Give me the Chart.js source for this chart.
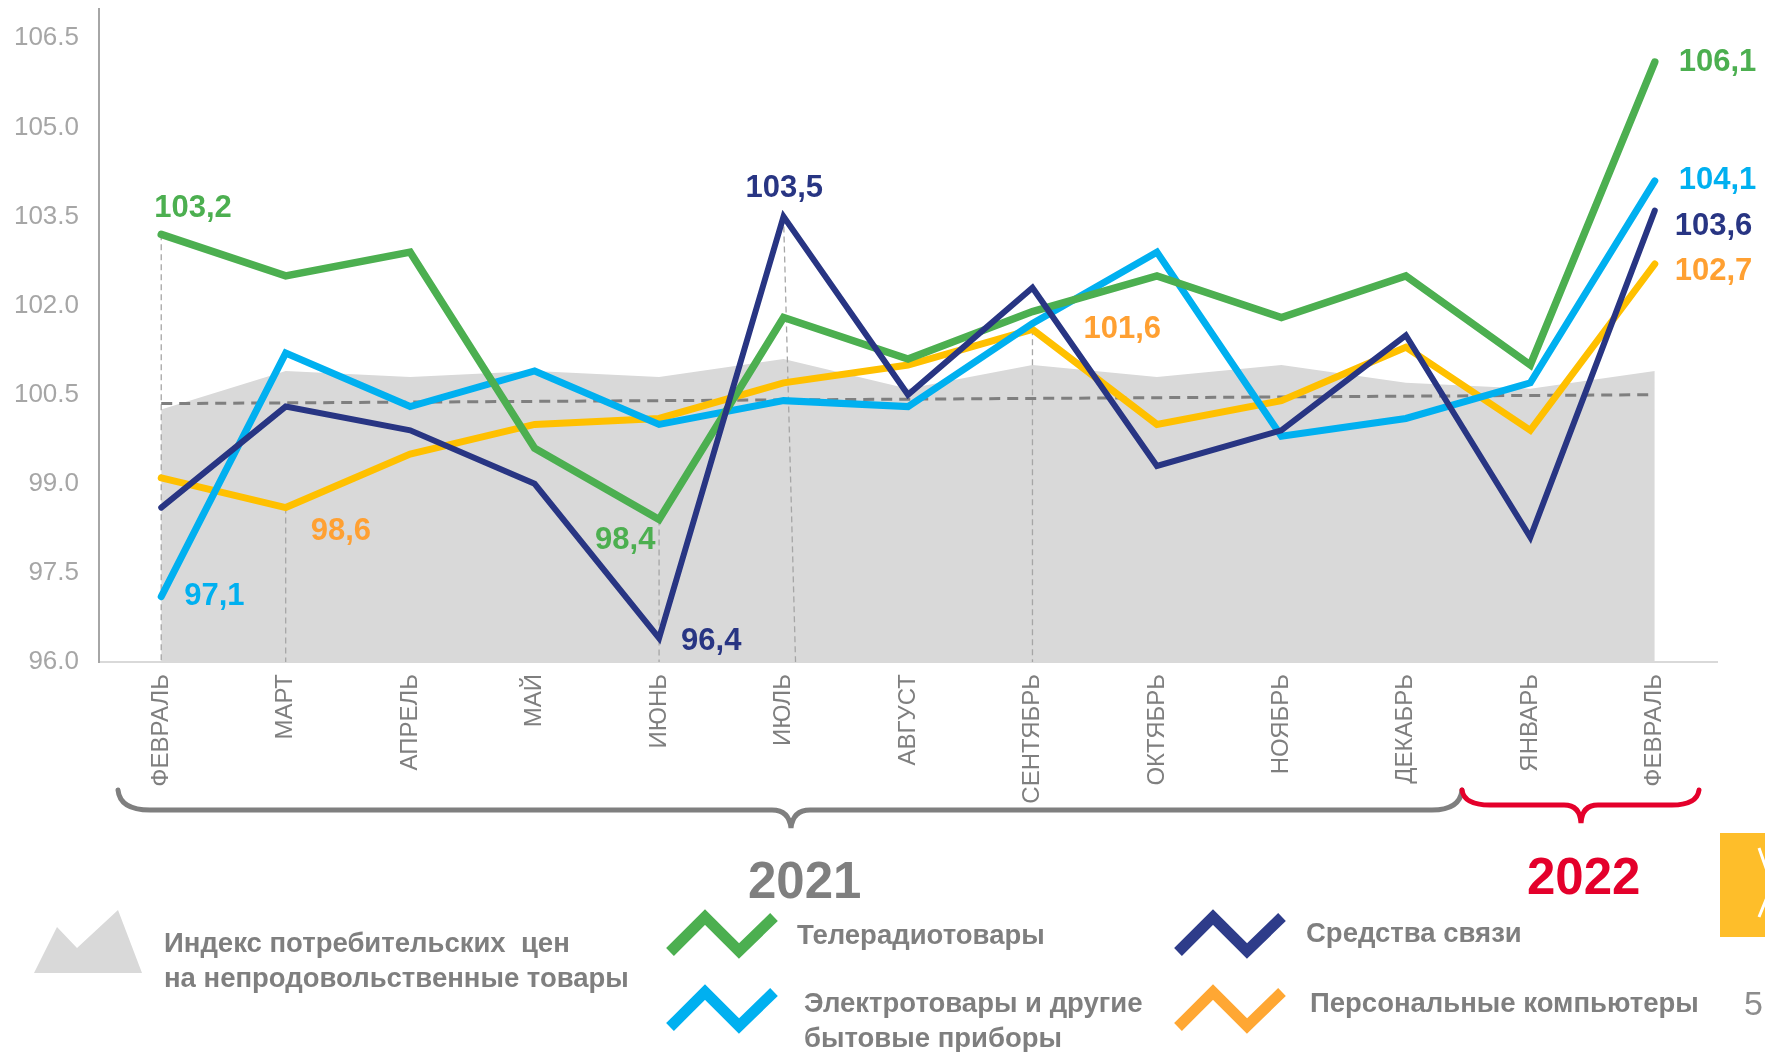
<!DOCTYPE html>
<html lang="ru">
<head>
<meta charset="utf-8">
<script src="https://cdn.jsdelivr.net/npm/chart.js@4.4.1/dist/chart.umd.min.js"></script>
<style>
  html, body { margin: 0; padding: 0; background: #fff; }
  #wrap { position: relative; width: 1765px; height: 1052px; overflow: hidden; font-family: "Liberation Sans", Arial, sans-serif; }
  #chart { position: absolute; left: 0; top: -27px; }
  .deco { position: absolute; left: 0; top: 0; pointer-events: none; }
  .txt { position: absolute; color: #7F7F7F; font-weight: bold; font-size: 27.5px; line-height: 35px; white-space: nowrap; }
  .year { position: absolute; font-weight: bold; font-size: 51px; line-height: 51px; }
</style>
</head>
<body>
<div id="wrap">
  <canvas id="chart" width="1765" height="1081"></canvas>

  <svg class="deco" width="1765" height="1052">
    <!-- braces under the month labels -->
    <path d="M118 790 Q120 810 150 810 L772 810 Q789 810 791 828 Q793 810 810 810 L1432 810 Q1460 810 1462 790"
          fill="none" stroke="#7F7F7F" stroke-width="5" stroke-linecap="round"/>
    <path d="M1462 790 Q1464 805 1490 805 L1564 805 Q1580 805 1581 823 Q1582 805 1598 805 L1672 805 Q1697 805 1699 790"
          fill="none" stroke="#E4002B" stroke-width="5" stroke-linecap="round"/>
    <!-- legend icons -->
    <polygon points="34,973 57,927 77,948 118,910 142,973" fill="#D9D9D9"/>
    <polyline points="670,952 705,917 739,951 774,917" fill="none" stroke="#4CAF50" stroke-width="11"/>
    <polyline points="670,1027 705,992 739,1026 774,992" fill="none" stroke="#00B0F0" stroke-width="11"/>
    <polyline points="1178,952 1213,917 1247,951 1282,917" fill="none" stroke="#2E3C8A" stroke-width="11"/>
    <polyline points="1178,1027 1213,992 1247,1026 1282,992" fill="none" stroke="#FFA733" stroke-width="11"/>
    <!-- cropped slide elements on the right -->
    <rect x="1720" y="833" width="60" height="104" fill="#FEBE2A"/>
    <polyline points="1759,848 1772,885 1759,917" fill="none" stroke="#fff" stroke-width="3"/>
  </svg>

  <div class="year" style="left:748px; top:855px; color:#7F7F7F;">2021</div>
  <div class="year" style="left:1527px; top:851px; color:#E4002B;">2022</div>

  <div class="txt" style="left:164px; top:925px;">Индекс потребительских&nbsp; цен<br>на непродовольственные товары</div>
  <div class="txt" style="left:797px; top:917px;">Телерадиотовары</div>
  <div class="txt" style="left:804px; top:985px;">Электротовары и другие<br>бытовые приборы</div>
  <div class="txt" style="left:1306px; top:915px;">Средства связи</div>
  <div class="txt" style="left:1310px; top:985px;">Персональные компьютеры</div>
  <div class="txt" style="left:1744px; top:986px; font-weight:normal; font-size:34px; color:#8C8C8C;">5</div>
</div>

<script>
// months: Feb 2021 .. Feb 2022
const months = ["ФЕВРАЛЬ", "МАРТ", "АПРЕЛЬ", "МАЙ", "ИЮНЬ", "ИЮЛЬ", "АВГУСТ",
                "СЕНТЯБРЬ", "ОКТЯБРЬ", "НОЯБРЬ", "ДЕКАБРЬ", "ЯНВАРЬ", "ФЕВРАЛЬ"];

const cpiNonFood   = [100.25, 100.9, 100.8, 100.9, 100.8, 101.1, 100.6, 101.0, 100.8, 101.0, 100.7, 100.6, 100.9];
const tvRadio      = [103.2, 102.5, 102.9, 99.6, 98.4, 101.8, 101.1, 101.9, 102.5, 101.8, 102.5, 101.0, 106.1];
const appliances   = [97.1, 101.2, 100.3, 100.9, 100.0, 100.4, 100.3, 101.7, 102.9, 99.8, 100.1, 100.7, 104.1];
const telecom      = [98.6, 100.3, 99.9, 99.0, 96.4, 103.5, 100.5, 102.3, 99.3, 99.9, 101.5, 98.1, 103.6];
const computers    = [99.1, 98.6, 99.5, 100.0, 100.1, 100.7, 101.0, 101.6, 100.0, 100.4, 101.3, 99.9, 102.7];

// dashed trend of the CPI: first and last month only
const cpiTrend = [100.35, null, null, null, null, null, null, null, null, null, null, null, 100.5];

const yTicks = [96.0, 97.5, 99.0, 100.5, 102.0, 103.5, 105.0, 106.5];

// which points get a value label, and which get a dashed drop line
const labelled = [
    { ds: 1, i: 0, dx: -7, dy: -26 },
    { ds: 2, i: 0, dx: 23, dy: 0 },
    { ds: 4, i: 1, dx: 25, dy: 24 },
    { ds: 1, i: 4, dx: -64, dy: 21 },
    { ds: 3, i: 4, dx: 22, dy: 3 },
    { ds: 3, i: 5, dx: -38, dy: -28 },
    { ds: 4, i: 7, dx: 51, dy: 0 },
    { ds: 1, i: 12, dx: 24, dy: 0 },
    { ds: 2, i: 12, dx: 24, dy: 0 },
    { ds: 3, i: 12, dx: 20, dy: 16 },
    { ds: 4, i: 12, dx: 20, dy: 7 }
];
const dropLines = [
    { ds: 1, i: 0, shift: 0 },
    { ds: 4, i: 1, shift: 0 },
    { ds: 1, i: 4, shift: 0 },
    { ds: 3, i: 5, shift: 12 },
    { ds: 4, i: 7, shift: 0 }
];

const labelColors = { 1: "#4CAF50", 2: "#00B0F0", 3: "#283583", 4: "#FFA032" };
const fontFamily = '"Liberation Sans", Arial, sans-serif';

const dropLinePlugin = {
    id: "dropLines",
    afterDatasetDraw(chart, args) {
        if (args.index !== 0) return;
        const ctx = chart.ctx;
        const bottom = chart.chartArea.bottom;
        ctx.save();
        ctx.strokeStyle = "#A6A6A6";
        ctx.lineWidth = 1.3;
        ctx.setLineDash([6, 4]);
        dropLines.forEach(d => {
            const pt = chart.getDatasetMeta(d.ds).data[d.i];
            ctx.beginPath();
            ctx.moveTo(pt.x, pt.y);
            ctx.lineTo(pt.x + d.shift, bottom);
            ctx.stroke();
        });
        ctx.restore();
    }
};

const valueLabelPlugin = {
    id: "valueLabels",
    afterDatasetsDraw(chart) {
        const ctx = chart.ctx;
        ctx.save();
        ctx.font = "bold 31px " + fontFamily;
        ctx.textBaseline = "middle";
        ctx.textAlign = "left";
        labelled.forEach(l => {
            const pt = chart.getDatasetMeta(l.ds).data[l.i];
            const v = chart.data.datasets[l.ds].data[l.i];
            ctx.fillStyle = labelColors[l.ds];
            ctx.fillText(v.toFixed(1).replace(".", ","), pt.x + l.dx, pt.y + l.dy);
        });
        ctx.restore();
    }
};

function lineSet(label, data, color, width, order) {
    return {
        label: label,
        data: data,
        borderColor: color,
        borderWidth: width,
        pointRadius: 0,
        tension: 0,
        fill: false,
        borderCapStyle: "round",
        borderJoinStyle: "miter",
        order: order
    };
}

new Chart(document.getElementById("chart"), {
    type: "line",
    data: {
        labels: months,
        datasets: [
            {
                label: "Индекс потребительских цен на непродовольственные товары",
                data: cpiNonFood,
                backgroundColor: "#D9D9D9",
                borderWidth: 0,
                pointRadius: 0,
                tension: 0,
                fill: "start",
                order: 10
            },
            lineSet("Телерадиотовары", tvRadio, "#4CAF50", 7.5, 2),
            lineSet("Электротовары и другие бытовые приборы", appliances, "#00B0F0", 7, 3),
            lineSet("Средства связи", telecom, "#283583", 6, 1),
            lineSet("Персональные компьютеры", computers, "#FFC000", 7, 4),
            {
                label: "trend",
                data: cpiTrend,
                borderColor: "#7F7F7F",
                borderWidth: 3,
                borderDash: [11, 7],
                pointRadius: 0,
                spanGaps: true,
                fill: false,
                order: 9
            }
        ]
    },
    options: {
        responsive: false,
        animation: false,
        layout: { padding: { left: 0, right: 48, top: 8, bottom: 0 } },
        plugins: {
            legend: { display: false },
            tooltip: { enabled: false }
        },
        scales: {
            x: {
                offset: true,
                grid: { display: false, drawTicks: false },
                border: { display: true, color: "#D9D9D9", width: 2 },
                ticks: {
                    autoSkip: false,
                    minRotation: 90,
                    maxRotation: 90,
                    padding: 12,
                    color: "#7F7F7F",
                    font: { family: fontFamily, size: 24 }
                },
                afterFit(scale) { scale.height = 392; }
            },
            y: {
                min: 96,
                max: 107,
                grid: { display: false, drawTicks: false },
                border: { display: true, color: "#A6A6A6", width: 2 },
                afterBuildTicks(scale) { scale.ticks = yTicks.map(v => ({ value: v })); },
                ticks: {
                    padding: 20,
                    color: "#A6A6A6",
                    font: { family: fontFamily, size: 26 },
                    callback: v => Number(v).toFixed(1)
                },
                afterFit(scale) { scale.width = 99; }
            }
        }
    },
    plugins: [dropLinePlugin, valueLabelPlugin]
});
</script>
</body>
</html>
